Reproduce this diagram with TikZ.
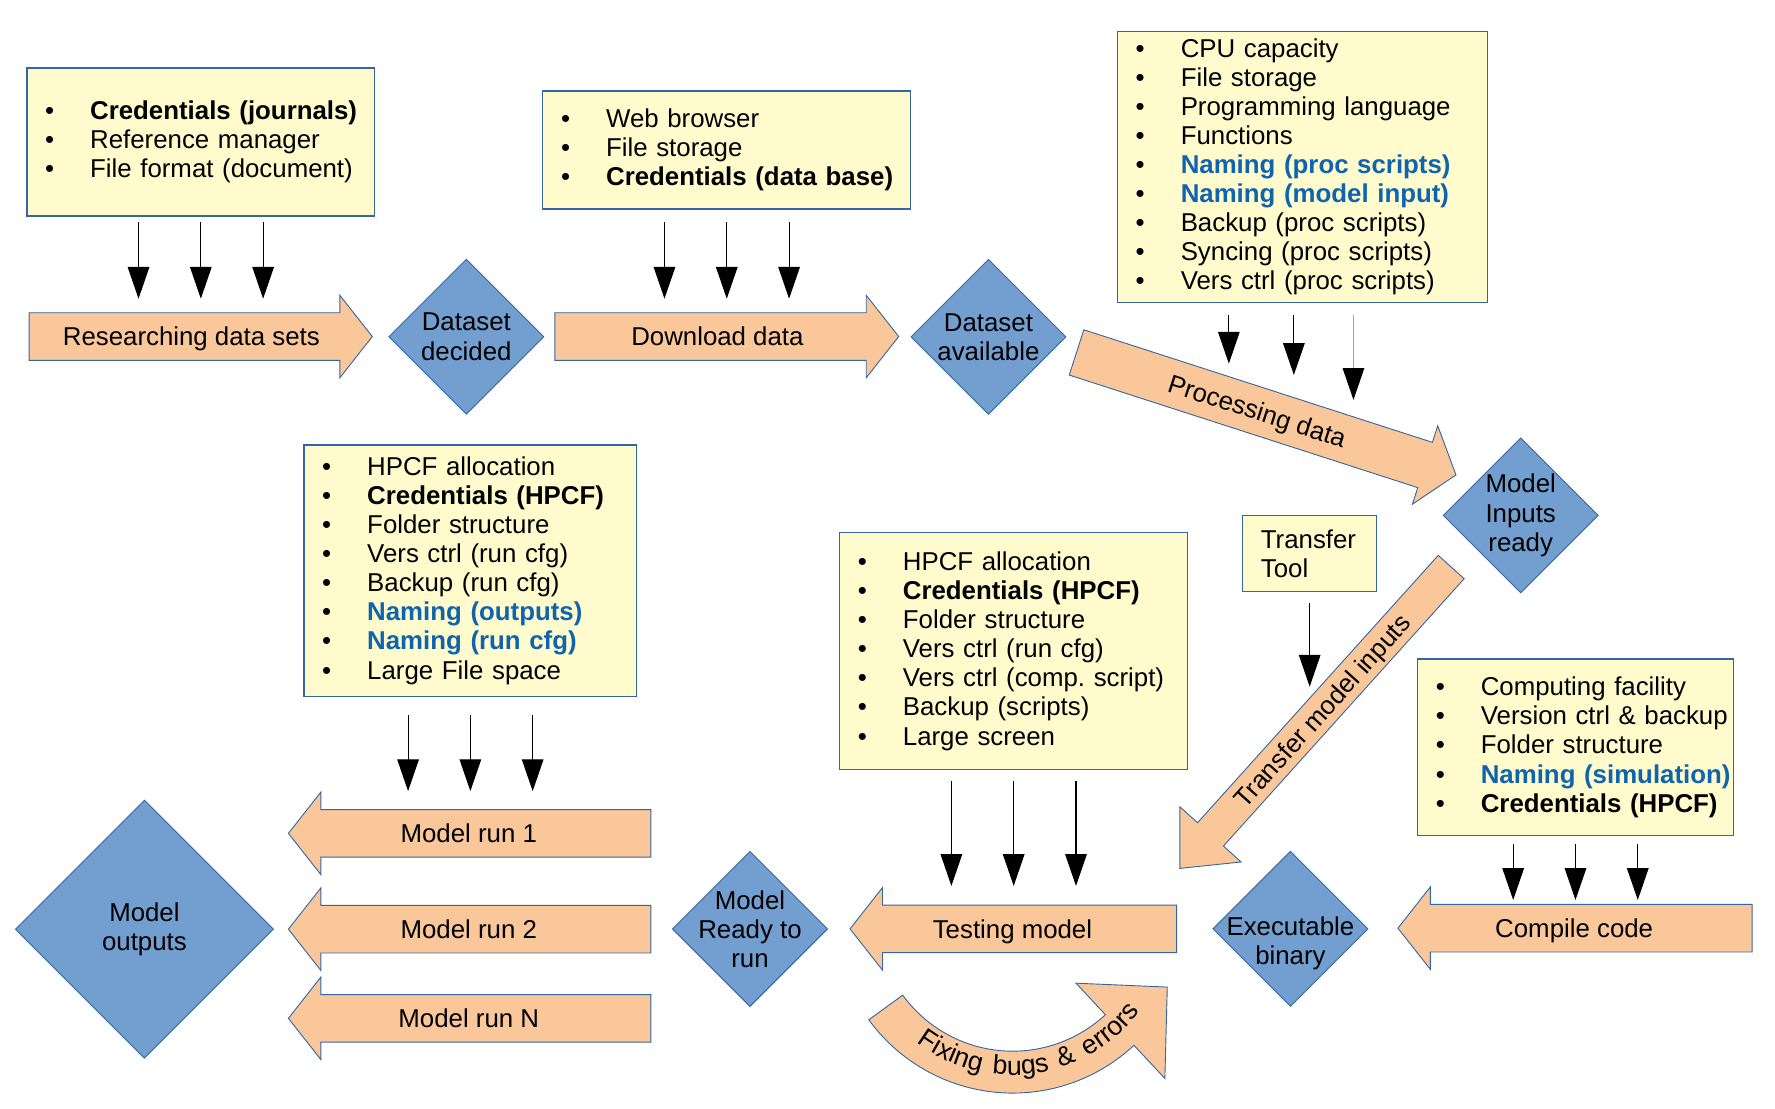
\documentclass[tikz,border=0pt]{standalone}
\usepackage{fontspec}
\setmainfont{Liberation Sans}
\usetikzlibrary{shapes.geometric, shapes.arrows, arrows.meta, decorations.text, calc}
\frenchspacing

\definecolor{linecol}{HTML}{3465A4}
\definecolor{notefill}{HTML}{FFFBCC}
\definecolor{diafill}{HTML}{729FCF}
\definecolor{stagefill}{HTML}{F9C79A}
\definecolor{namecol}{HTML}{0F64AF}

\newcommand{\bitem}[1]{\mbox{\makebox[39.8pt][l]{\textbullet}#1}}
\newcommand{\nameitem}[1]{\bitem{\textcolor{namecol}{\bfseries #1}}}

\tikzstyle{infobox} = [rectangle, anchor=north west, align=left, draw=linecol, fill=notefill, line width=1pt, inner xsep=16pt, inner ysep=0pt]
\tikzstyle{decision} = [diamond, aspect=1, minimum width=137pt, minimum height=137pt, inner sep=-16pt, align=center, draw=linecol, fill=diafill, line width=0.8pt]
\tikzstyle{stage} = [single arrow, anchor=tail, draw=linecol, fill=stagefill, line width=0.8pt, single arrow head extend=15.4pt, single arrow tip angle=103.6, text height=19.2pt, text depth=2.8pt, inner xsep=0pt, inner ysep=9.6pt]
\tikzstyle{backstage} = [stage, shape border rotate=180, execute at end node={\hspace*{18pt}}]
\tikzstyle{feed} = [line width=1pt, -{Triangle[length=28pt,width=19pt]}]

\begin{document}
\begin{tikzpicture}[x=1pt, y=-1pt, font=\fontsize{22.8}{25.7}\selectfont]
\useasboundingbox (0,0) rectangle (1567,979);

% Finding the data
\node (B1) [infobox, text width=275pt, minimum height=130.7pt] at (23.3,59.5) {\bitem{\textbf{Credentials (journals)}}\\ \bitem{Reference manager}\\ \bitem{File format (document)}};
\node (R1) [stage, minimum height=303pt] at (25.3,297.1) {Researching data sets};
\node (D1) [decision] at (411.7,297.3) {Dataset\\decided};

\node (B2) [infobox, text width=292.6pt, minimum height=104.2pt] at (478.8,79.8) {\bitem{Web browser}\\ \bitem{File storage}\\ \bitem{\textbf{Credentials (data base)}}};
\node (R2) [stage, minimum height=303.6pt] at (489.4,297.1) {Download data};
\node (D2) [decision] at (872.6,297.4) {Dataset\\available};

% Processing
\node (B3) [infobox, text width=294.5pt, minimum height=238.8pt] at (986.1,27.4) {\bitem{CPU capacity}\\ \bitem{File storage}\\ \bitem{Programming language}\\ \bitem{Functions}\\ \nameitem{Naming (proc scripts)}\\ \nameitem{Naming (model input)}\\ \bitem{Backup (proc scripts)}\\ \bitem{Syncing (proc scripts)}\\ \bitem{Vers ctrl (proc scripts)}};
\node (R3) [stage, rotate=-17.9, minimum height=352pt] at (950,311) {Processing data};
\node (D3) [decision] at (1342.5,455) {Model\\Inputs\\ready};

% Transfer
\node (T) [infobox, text width=86.2pt, minimum height=66.8pt] at (1096.6,454.8) {Transfer\\Tool};
\node (R4) [stage, shape border rotate=180, rotate=48, minimum height=358pt, single arrow head extend=21pt, single arrow tip angle=84, inner ysep=4pt] at (1281.4,500.3) {Transfer model inputs};

% Compiling and testing
\node (B6) [infobox, text width=246.7pt, minimum height=155.7pt] at (1251,581.3) {\bitem{Computing facility}\\ \bitem{Version ctrl \& backup}\\ \bitem{Folder structure}\\ \nameitem{Naming (simulation)}\\ \bitem{\textbf{Credentials (HPCF)}}};
\node (CC) [backstage, minimum height=312.7pt] at (1547.2,819.4) {Compile code};
\node (D4) [decision] at (1139.2,820) {\rule{0pt}{16.8pt}\\Executable\\binary};

\node (B5) [infobox, text width=275.2pt, minimum height=208.9pt] at (740.8,469.8) {\bitem{HPCF allocation}\\ \bitem{\textbf{Credentials (HPCF)}}\\ \bitem{Folder structure}\\ \bitem{Vers ctrl (run cfg)}\\ \bitem{Vers ctrl (comp. script)}\\ \bitem{Backup (scripts)}\\ \bitem{Large screen}};
\node (TM) [backstage, minimum height=288.3pt] at (1039.1,820) {Testing model};
\node (D5) [decision] at (662.1,820.1) {Model\\Ready to\\run};

% Running
\node (B4) [infobox, text width=261.7pt, minimum height=221.7pt] at (267.9,392.3) {\bitem{HPCF allocation}\\ \bitem{\textbf{Credentials (HPCF)}}\\ \bitem{Folder structure}\\ \bitem{Vers ctrl (run cfg)}\\ \bitem{Backup (run cfg)}\\ \nameitem{Naming (outputs)}\\ \nameitem{Naming (run cfg)}\\ \bitem{Large File space}};
\node (M1) [backstage, minimum height=320pt] at (575,735.7) {Model run 1};
\node (M2) [backstage, minimum height=320pt] at (575,820.3) {Model run 2};
\node (MN) [backstage, minimum height=320pt] at (575,899) {Model run N};
\node (D6) [decision, minimum width=228pt, minimum height=228pt] at (127.5,820.3) {Model\\outputs};

% Fixing loop
\coordinate (fixc) at (894,808);
\draw [line width=0.8pt, draw=linecol, fill=stagefill] ($(fixc)+(144:157)$) arc[start angle=144, end angle=47, radius=157] -- ($(fixc)+(47:197)$) -- (1030.5,871.4) -- ($(fixc)+(47:82)$) -- ($(fixc)+(47:120)$) arc[start angle=47, end angle=144, radius=120] -- cycle;
\path [decorate, decoration={text along path, text={|\fontsize{23.5}{26}\selectfont|Fixing bugs {\&} errors}, text align={fit to path stretching spaces}}] ($(fixc)+(127:141)$) arc[start angle=127, end angle=37, radius=141];

% Requirements
\foreach \dx in {-55,0,55} \draw [feed] ([xshift=\dx pt, yshift=-4.8pt]B1.south) -- ++(0,67.7);
\foreach \dx in {-55,0,55} \draw [feed] ([xshift=\dx pt, yshift=-11pt]B2.south) -- ++(0,67.7);
\foreach \dx/\len in {-65/43,-7.6/53} \draw [feed] ([xshift=\dx pt, yshift=-10.8pt]B3.south) -- ++(0,\len);
\draw [feed, draw=gray!70, -{Triangle[length=28pt,width=19pt,black]}] ([xshift=45pt, yshift=-10.8pt]B3.south) -- ++(0,75);
\draw [feed] ([yshift=-10pt]T.south) -- ++(0,73.6);
\foreach \dx in {-55,0,55} \draw [feed] ([xshift=\dx pt, yshift=-16.4pt]B4.south) -- ++(0,67);
\foreach \dx in {-55,0,55} \draw [feed] ([xshift=\dx pt, yshift=-9.7pt]B5.south) -- ++(0,92.7);
\foreach \dx in {-55,0,55} \draw [feed] ([xshift=\dx pt, yshift=-7.3pt]B6.south) -- ++(0,49.2);

\end{tikzpicture}
\end{document}
